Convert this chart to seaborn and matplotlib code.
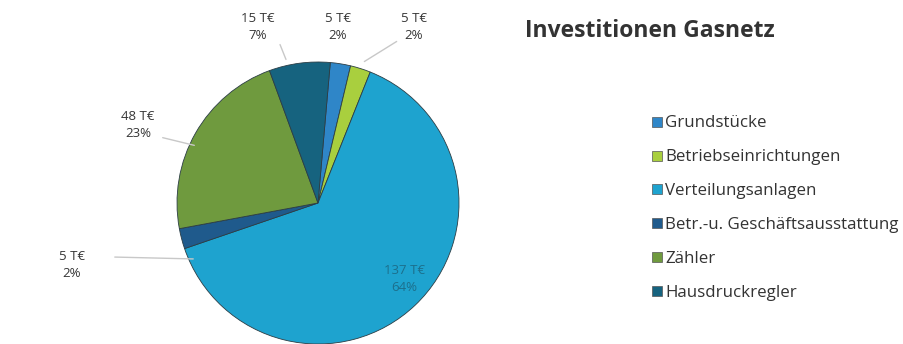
import matplotlib
matplotlib.use("Agg")
import matplotlib.pyplot as plt
from matplotlib.lines import Line2D
import seaborn as sns

sns.set_theme(style="white")
plt.rcParams["font.family"] = ["Open Sans", "DejaVu Sans"]

# Investment categories (T€) in clockwise order from the top
categories = ["Grundstücke", "Betriebseinrichtungen", "Verteilungsanlagen",
              "Betr.-u. Geschäftsausstattung", "Zähler", "Hausdruckregler"]
values_teur = [5, 5, 137, 5, 48, 15]
percent_labels = ["2%", "2%", "64%", "2%", "23%", "7%"]
colors = ["#2f86c8", "#a9cf3e", "#1ea3cf", "#1f5a8c", "#6f9a3e", "#16637f"]

W, H, DPI = 904, 344, 100
fig = plt.figure(figsize=(W / DPI, H / DPI), dpi=DPI)

# Pie axes: centre at (318, 203) px, radius 141 px
cx, cy, r = 318, 203, 141
ax = fig.add_axes([(cx - r) / W, (H - cy - r) / H, 2 * r / W, 2 * r / H])
wedges, _ = ax.pie(values_teur, colors=colors, startangle=85, counterclock=False,
                   radius=1.0, wedgeprops=dict(linewidth=0.6, edgecolor="#2b3d45"))
ax.set_xlim(-1, 1)
ax.set_ylim(-1, 1)
ax.set_aspect("equal")
ax.axis("off")


def px(x, y):
    """Pixel position -> pie data coordinates."""
    return (x - cx) / r, (cy - y) / r


label_pos = [(338, 27), (414, 27), (404, 279), (72, 265), (138, 125), (258, 27)]
label_col = ["#363636"] * 6
label_col[2] = "#1c6f8c"
for i, (pos, col) in enumerate(zip(label_pos, label_col)):
    tx, ty = px(*pos)
    ax.text(tx, ty, f"{values_teur[i]} T€\n{percent_labels[i]}", ha="center", va="center",
            fontsize=9.5, color=col, linespacing=1.35, fontweight="medium", clip_on=False)

# Leader lines for small outer labels
leaders = [((399, 40), (362, 63)), ((112, 257), (196, 259)),
           ((160, 137), (197, 146)), ((279, 42), (287, 62))]
for (x0, y0), (x1, y1) in leaders:
    ax.annotate("", xy=px(x1, y1), xytext=px(x0, y0),
                arrowprops=dict(arrowstyle="-", color="#c8c8c8", lw=1.0),
                annotation_clip=False)

fig.text(525 / W, 1 - 31 / H, "Investitionen Gasnetz", ha="left", va="center",
         fontsize=16.5, fontweight="bold", color="#333333")

handles = [Line2D([0], [0], marker="s", linestyle="none", markersize=7,
                  markerfacecolor=c, markeredgecolor="#555555", markeredgewidth=0.5)
           for c in colors]
fig.legend(handles, categories, loc="upper left", bbox_to_anchor=(643 / W, 1 - 107 / H),
           frameon=False, fontsize=12.2, handlelength=0.7, handletextpad=0.1,
           labelspacing=1.06, labelcolor="#333333", borderpad=0)

fig.savefig("out.png", dpi=DPI, facecolor="white")
